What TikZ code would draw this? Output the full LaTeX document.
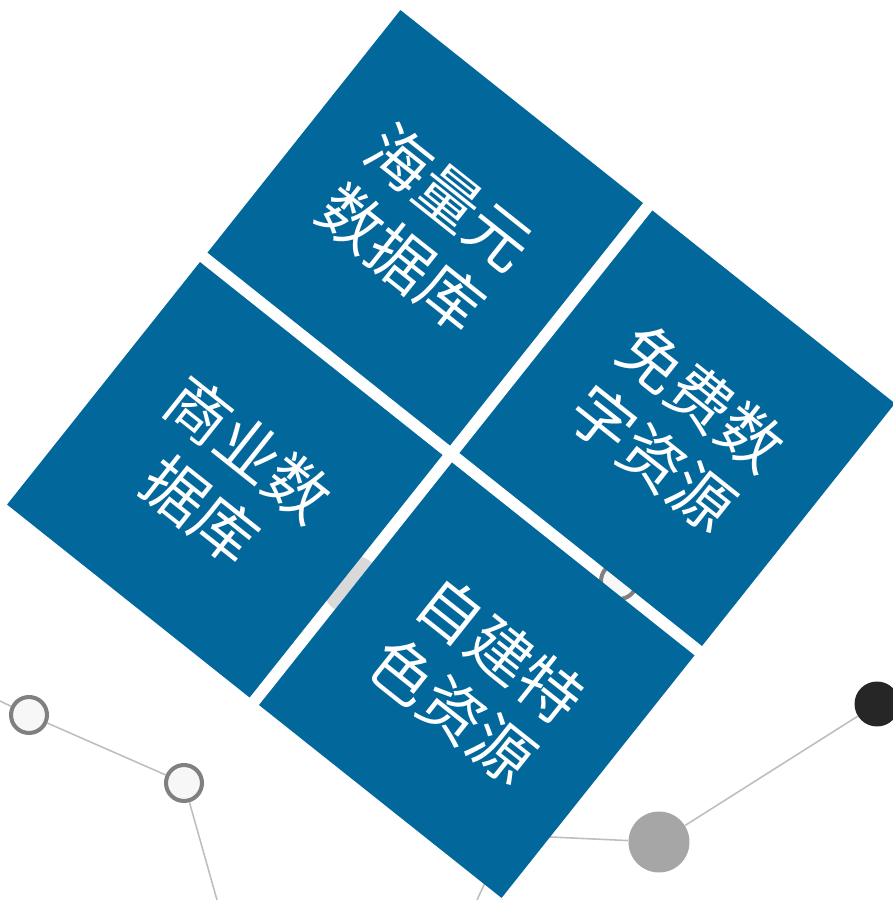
\documentclass[tikz,border=0pt]{standalone}
\usepackage{fontspec}
\newfontfamily\cjk{Noto Sans CJK SC}
\definecolor{tileblue}{RGB}{2,104,156}
\definecolor{ringgray}{RGB}{128,128,128}
\definecolor{ringfill}{RGB}{247,247,247}
\definecolor{linkgray}{RGB}{190,190,190}
\definecolor{dotgray}{RGB}{166,166,166}
\definecolor{dotlight}{RGB}{217,217,217}
\definecolor{dotdark}{RGB}{38,38,38}

\begin{document}
\begin{tikzpicture}[x=0.02cm,y=0.02cm,
 tile/.style={fill=tileblue,minimum size=6.2cm,inner sep=0pt,text=white,align=center,font=\cjk\fontsize{36pt}{44pt}\selectfont},
 ring/.style={circle,draw=ringgray,fill=ringfill,line width=2.3pt,minimum size=0.72cm,inner sep=0pt},
 dot/.style={circle,inner sep=0pt},
 link/.style={draw=linkgray,line width=0.9pt}]
 \useasboundingbox (0,0) rectangle (893,900);
 \clip (0,0) rectangle (893,900);

 \node[ring] (n1) at (29,185) {}; %左の輪
 \node[ring] (n2) at (184,117) {};
 \node[dot,fill=dotlight,minimum size=1.2cm] (n3) at (352,315) {}; %隙間の円
 \node[ring] (n4) at (619,319) {};
 \node[dot,fill=dotgray,minimum size=1.22cm] (n5) at (659,58) {}; %灰色の円
 \node[dot,fill=dotdark,minimum size=0.9cm] (n6) at (877,196) {}; %黒い円
 \coordinate (hub) at (507,65); %四角の下
 \coordinate (e1) at (0,199); %左端
 \coordinate (e2) at (217,0); %下端
 \coordinate (e3) at (477,0); %下端

 \draw[link] (e1)--(n1)--(n2)--(e2);
 \draw[link] (n6)--(n5)--(hub)--(e3);

 \begin{scope}[shift={(451,446)},rotate=-38.5,transform shape]
  \node[tile] (haiLiang) at (-161,161) {海量元\\数据库};
  \node[tile] (mianFei) at (161,161) {免费数\\字资源};
  \node[tile] (shangYe) at (-161,-161) {商业数\\据库};
  \node[tile] (ziJian) at (161,-161) {自建特\\色资源};
 \end{scope}
\end{tikzpicture}
\end{document}
